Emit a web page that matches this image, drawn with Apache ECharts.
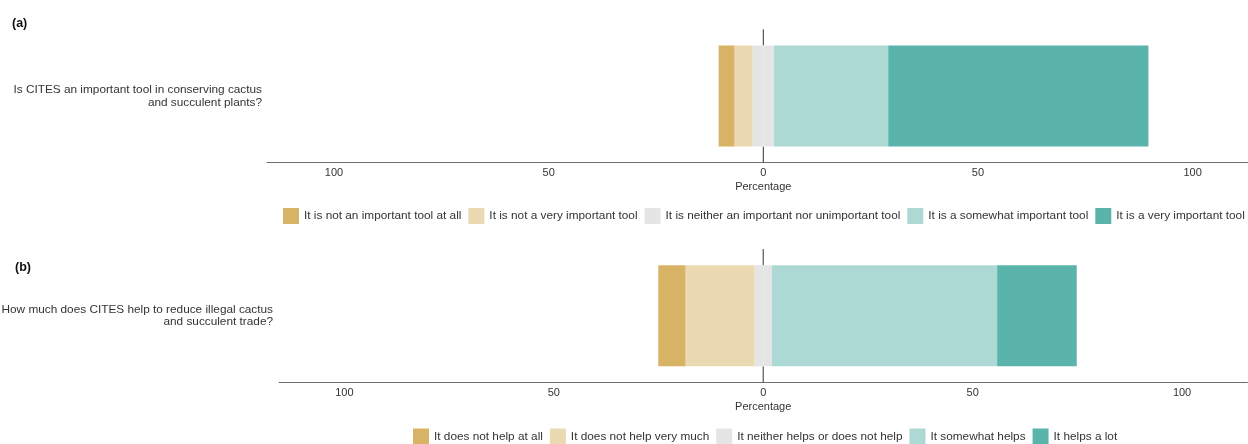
<!DOCTYPE html>
<html>
<head>
<meta charset="utf-8">
<script src="https://cdn.jsdelivr.net/npm/echarts@6/dist/echarts.min.js"></script>
<style>
  html, body { margin: 0; padding: 0; background: #fff; overflow: hidden; }
  #chart { width: 1262px; height: 444px; }
</style>
</head>
<body>
<div id="chart"></div>
<script>
// ---- data ----
const categoriesA = ['Is CITES an important tool in conserving cactus\nand succulent plants?'];
const levelsA = [
  'It is not an important tool at all',
  'It is not a very important tool',
  'It is neither an important nor unimportant tool',
  'It is a somewhat important tool',
  'It is a very important tool'
];
const valuesA = [3.7, 4.2, 5.0, 26.6, 60.6];

const categoriesB = ['How much does CITES help to reduce illegal cactus\nand succulent trade?'];
const levelsB = [
  'It does not help at all',
  'It does not help very much',
  'It neither helps or does not help',
  'It somewhat helps',
  'It helps a lot'
];
const valuesB = [6.5, 16.5, 4.1, 53.8, 19.0];

const tickValues = [-100, -50, 0, 50, 100];
const zeroValue = 0;
const levelColors = ['#D8B365', '#EBD9B1', '#E5E5E5', '#ADD9D5', '#5AB4AC'];

const FONT = 'Liberation Sans';
const BAR_WIDTH = 101;

// ---- build diverging stacked series ----
function buildSeries(values, levels, idx, stack) {
  const mk = (li, v) => ({
    type: 'bar',
    name: levels[li],
    stack: stack,
    xAxisIndex: idx,
    yAxisIndex: idx,
    barWidth: BAR_WIDTH,
    z: 5,
    itemStyle: { color: levelColors[li] },
    emphasis: { disabled: true },
    data: [v]
  });
  // reference line at zero, only visible outside the bar (as in the reference)
  const zeroLine = {
    type: 'custom',
    name: 'zero-' + stack,
    xAxisIndex: idx,
    yAxisIndex: idx,
    z: 1,
    silent: true,
    data: [[zeroValue, 0]],
    renderItem: function (params, api) {
      const p = api.coord([api.value(0), api.value(1)]);
      const cs = params.coordSys;
      const half = BAR_WIDTH / 2;
      const style = { stroke: '#333', lineWidth: 1 };
      return {
        type: 'group',
        children: [
          { type: 'line', shape: { x1: p[0], y1: cs.y, x2: p[0], y2: p[1] - half }, style: style },
          { type: 'line', shape: { x1: p[0], y1: p[1] + half, x2: p[0], y2: cs.y + cs.height }, style: style }
        ]
      };
    }
  };
  return [
    zeroLine,
    mk(2, -values[2] / 2),
    mk(1, -values[1]),
    mk(0, -values[0]),
    mk(2, values[2] / 2),
    mk(3, values[3]),
    mk(4, values[4])
  ];
}

const xAxisCommon = {
  type: 'value',
  min: -115.6,
  max: 115.6,
  name: 'Percentage',
  nameLocation: 'middle',
  nameGap: 18.5,
  nameTextStyle: { fontSize: 11, color: '#333', fontFamily: FONT },
  axisLine: { show: true, lineStyle: { color: '#6e6e6e', width: 1 } },
  axisTick: { show: false },
  splitLine: { show: false },
  axisLabel: {
    customValues: tickValues,
    formatter: v => String(Math.abs(v)),
    fontSize: 11,
    color: '#333',
    margin: 5,
    fontFamily: FONT
  }
};

const labelYAxis = (cats, grid, margin) => ({
  type: 'category',
  gridIndex: grid,
  data: cats,
  position: 'left',
  axisLine: { show: false, onZero: false },
  axisTick: { show: false },
  splitLine: { show: false },
  axisLabel: {
    fontSize: 11.8,
    lineHeight: 12.5,
    color: '#333',
    margin: margin,
    align: 'right',
    fontFamily: FONT
  }
});

const legendCommon = {
  itemWidth: 16,
  itemHeight: 16,
  itemGap: 7,
  padding: 0,
  icon: 'rect',
  selectedMode: false,
  width: 2000,
  textStyle: { fontSize: 11.8, color: '#333', fontFamily: FONT }
};

const option = {
  animation: false,
  textStyle: { fontFamily: FONT },
  title: [
    { text: '(a)', left: 12, top: 17, padding: 0, textStyle: { fontSize: 12.5, fontWeight: 'bold', color: '#111', fontFamily: FONT } },
    { text: '(b)', left: 15, top: 261, padding: 0, textStyle: { fontSize: 12.5, fontWeight: 'bold', color: '#111', fontFamily: FONT } }
  ],
  grid: [
    { left: 267, top: 29.3, width: 992.6, height: 133.4, containLabel: false, outerBoundsMode: 'none' },
    { left: 279, top: 249, width: 968.4, height: 133.7, containLabel: false, outerBoundsMode: 'none' }
  ],
  xAxis: [
    Object.assign({ gridIndex: 0 }, xAxisCommon),
    Object.assign({ gridIndex: 1 }, xAxisCommon)
  ],
  yAxis: [
    labelYAxis(categoriesA, 0, 5),
    labelYAxis(categoriesB, 1, 6)
  ],
  legend: [
    Object.assign({ left: 283, top: 208, data: levelsA }, legendCommon),
    Object.assign({ left: 413, top: 428.5, data: levelsB }, legendCommon)
  ],
  series: [].concat(
    buildSeries(valuesA, levelsA, 0, 'a'),
    buildSeries(valuesB, levelsB, 1, 'b')
  )
};

const chart = echarts.init(document.getElementById('chart'), null, { renderer: 'canvas' });
chart.setOption(option);
</script>
</body>
</html>
